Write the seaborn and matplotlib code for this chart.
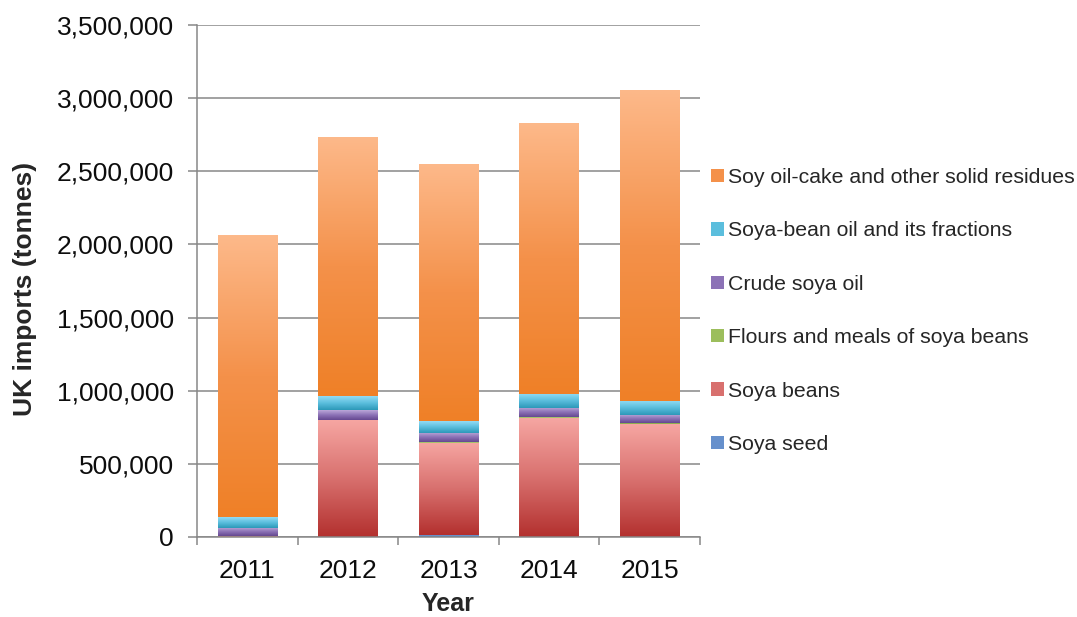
import numpy as np
import pandas as pd
import matplotlib
matplotlib.use("Agg")
import matplotlib.pyplot as plt
from matplotlib.colors import LinearSegmentedColormap
from matplotlib.patches import Patch
from matplotlib.ticker import FuncFormatter, FixedLocator
import seaborn as sns

years = ["2011", "2012", "2013", "2014", "2015"]

# tonnes imported (bottom to top)
soya_seed = [1000, 3000, 14000, 2000, 2000]
soya_beans = [3000, 795000, 631000, 813000, 768000]
flours_meals = [2000, 4000, 3000, 2000, 9000]
crude_oil = [55000, 66000, 62000, 64000, 55000]
bean_oil = [75000, 93000, 82000, 96000, 96000]
oil_cake = [1925000, 1772000, 1758000, 1853000, 2127000]

labels = ["Soya seed", "Soya beans", "Flours and meals of soya beans",
          "Crude soya oil", "Soya-bean oil and its fractions",
          "Soy oil-cake and other solid residues"]
series = [soya_seed, soya_beans, flours_meals, crude_oil, bean_oil, oil_cake]
# excel-ish gradient stops: bottom, middle, top
stops = [
    ["#3D6DB1", "#6690CC", "#9BB8E2"],
    ["#B3302E", "#D8706E", "#F6A6A2"],
    ["#7C9E3F", "#9CBE5C", "#C4DC92"],
    ["#654890", "#8C72B6", "#BCA8D9"],
    ["#2C98B8", "#5BBEDD", "#94DCF5"],
    ["#EF8027", "#F4914A", "#FDB98A"],
]

sns.set_theme(style="white")
plt.rcParams["font.family"] = ["Liberation Sans", "DejaVu Sans"]

fig = plt.figure(figsize=(10.77, 6.17), dpi=100)
ax = fig.add_axes([0.1829, 0.1297, 0.467, 0.8298])

grey = "#878787"
bottom = np.zeros(len(years))
for name, vals, cols in zip(labels, series, stops):
    df = pd.DataFrame({"year": years, "tonnes": vals})
    n_before = len(ax.patches)
    sns.barplot(data=df, x="year", y="tonnes", order=years, color=cols[1],
                width=0.59, bottom=bottom.copy(), errorbar=None, saturation=1,
                linewidth=0, ax=ax)
    cmap = LinearSegmentedColormap.from_list(name, cols)
    grad = np.linspace(0, 1, 256).reshape(-1, 1)
    for p in ax.patches[n_before:]:
        x0, y0, w, h = p.get_x(), p.get_y(), p.get_width(), p.get_height()
        if h <= 0:
            continue
        im = ax.imshow(grad, cmap=cmap, extent=(x0, x0 + w, y0, y0 + h),
                       origin="lower", aspect="auto", zorder=2.5,
                       interpolation="bilinear")
        im.set_clip_path(p)
    bottom += np.array(vals)

ax.set_xlim(-0.5, 4.5)
ax.set_ylim(0, 3500000)
ax.set_yticks(np.arange(0, 3500001, 500000))
ax.yaxis.set_major_formatter(FuncFormatter(lambda v, pos: f"{int(v):,}"))
ax.set_axisbelow(True)
ax.yaxis.grid(True, color=grey, lw=1.1)
ax.xaxis.grid(False)

for side in ["top", "right"]:
    ax.spines[side].set_visible(False)
for side in ["left", "bottom"]:
    ax.spines[side].set_color(grey)
    ax.spines[side].set_linewidth(1.1)

ax.xaxis.set_minor_locator(FixedLocator(np.arange(-0.5, 5, 1.0)))
ax.tick_params(axis="x", which="major", length=0, pad=16, labelsize=19,
               labelcolor="#0d0d0d")
ax.tick_params(axis="x", which="minor", bottom=True, length=6, width=1.1,
               color=grey)
ax.tick_params(axis="y", left=True, length=6.5, width=1.1, color=grey,
               pad=10, labelsize=19, labelcolor="#0d0d0d")

ax.set_xlabel("Year", fontsize=18, fontweight="bold", labelpad=6.5)
ax.set_ylabel("UK imports (tonnes)", fontsize=19, fontweight="bold", labelpad=14)
ax.yaxis.label.set_y(0.484)

handles = [Patch(facecolor=c[1], edgecolor="none") for c in stops]
fig.legend(handles[::-1], labels[::-1], loc="center left",
           bbox_to_anchor=(0.660, 0.496), frameon=False, fontsize=15.3,
           handlelength=0.6, handleheight=0.6, handletextpad=0.2,
           labelspacing=1.62, borderpad=0, borderaxespad=0)

fig.savefig("out.png", dpi=100)
